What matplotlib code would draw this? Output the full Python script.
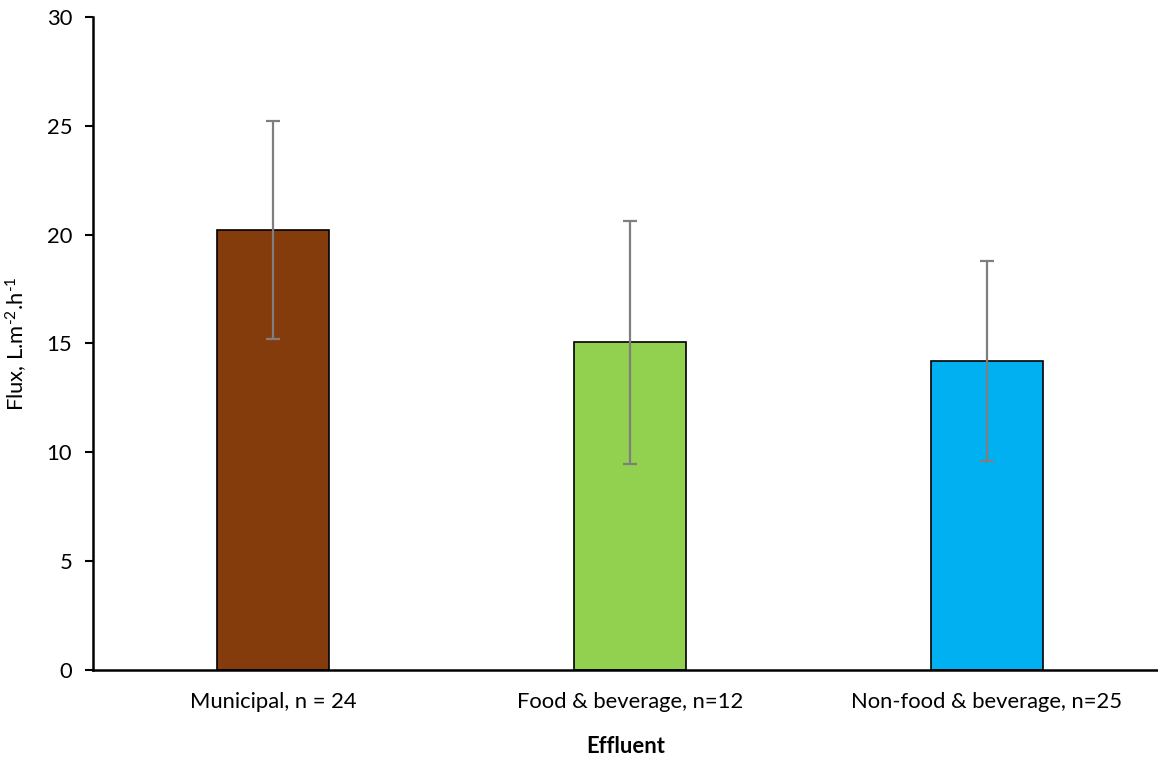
import matplotlib.pyplot as plt

plt.rcParams['font.family'] = ['Lato', 'DejaVu Sans']
plt.rcParams['mathtext.fontset'] = 'custom'
plt.rcParams['mathtext.rm'] = 'Lato'
plt.rcParams['mathtext.default'] = 'regular'

categories = ['Municipal, n = 24', 'Food & beverage, n=12', 'Non-food & beverage, n=25']
flux = [20.2, 15.05, 14.2]
flux_err = [5.0, 5.6, 4.6]
colors = ['#843C0C', '#92D050', '#00B0F0']

fig = plt.figure(figsize=(11.58, 7.58), dpi=100)
ax = fig.add_axes([0.0803, 0.1161, 0.9197, 0.8615])

x = range(len(categories))
ax.bar(x, flux, width=0.315, color=colors, edgecolor='black', linewidth=1.2, zorder=2)
ax.errorbar(x, flux, yerr=flux_err, fmt='none', ecolor='#7f7f7f',
            elinewidth=1.6, capsize=4.7, capthick=1.6, zorder=3)

ax.set_xlim(-0.505, 2.48)
ax.set_ylim(0, 30)
ax.set_yticks([0, 5, 10, 15, 20, 25, 30])
ax.set_xticks(list(x))
ax.set_xticklabels(categories)
ax.tick_params(axis='x', length=0, labelsize=15.8, pad=16)
ax.tick_params(axis='y', length=6, width=1.5, labelsize=15.8, pad=9)

for side in ['top', 'right']:
    ax.spines[side].set_visible(False)
for side in ['left', 'bottom']:
    ax.spines[side].set_linewidth(1.8)

ax.set_xlabel('Effluent', fontsize=15.8, fontweight='bold', labelpad=17)
ax.set_ylabel(r'Flux, L.m$^{\text{-}2}$.h$^{\text{-}1}$', fontsize=15.8, labelpad=12)

plt.savefig('out.png', dpi=100)
